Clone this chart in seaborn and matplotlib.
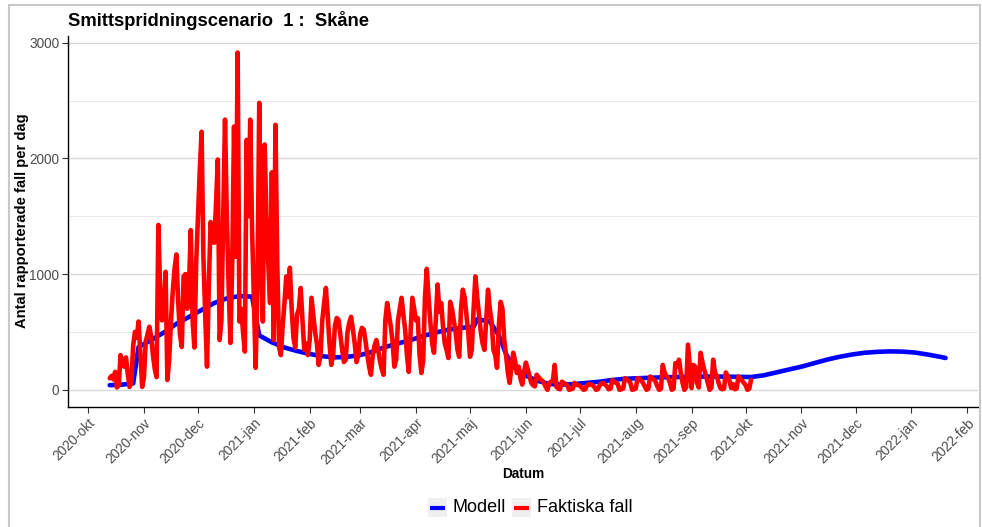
import pandas as pd
import matplotlib
matplotlib.use("Agg")
import matplotlib.pyplot as plt
import seaborn as sns
from matplotlib.patches import Rectangle
from matplotlib.lines import Line2D

# Daily reported cases, starting Tuesday 2020-10-13 (rows are Mon..Sun weeks)
faktiska_start = "2020-10-13"
faktiska_fall = [
    100, 120, 90, 155, 20, 40,
    300, 250, 200, 280, 140, 25, 60,
    380, 500, 450, 590, 320, 25, 110,
    420, 480, 545, 460, 300, 180, 110,
    1425, 850, 600, 700, 1020, 85, 260,
    600, 850, 1050, 1170, 760, 480, 370,
    980, 1000, 700, 900, 1380, 600, 365,
    1100, 1500, 1900, 2230, 1150, 650, 200,
    900, 1450, 1300, 1270, 1600, 1990, 430,
    600, 1500, 2335, 1500, 900, 405, 1100,
    2275, 1150, 2915, 590, 700, 500, 330,
    2160, 1500, 2335, 1400, 800, 190, 900,
    2480, 1200, 590, 2120, 1500, 1100, 750,
    1880, 430, 2290, 1100, 370, 300, 550,
    750, 980, 800, 1055, 700, 450, 365,
    650, 700, 880, 600, 345, 400, 300,
    430, 795, 650, 500, 400, 215, 300,
    600, 750, 880, 650, 400, 215, 300,
    550, 620, 605, 480, 350, 240, 260,
    500, 580, 630, 520, 400, 240, 300,
    480, 535, 520, 420, 300, 200, 130,
    300, 380, 430, 350, 250, 180, 130,
    600, 750, 650, 550, 420, 200, 260,
    600, 700, 795, 650, 520, 300, 155,
    500, 795, 700, 600, 620, 300, 145,
    250, 800, 1045, 800, 580, 400, 320,
    600, 910, 675, 750, 550, 400, 345,
    275, 760, 700, 600, 500, 350, 285,
    700, 865, 800, 650, 500, 285, 345,
    700, 980, 800, 650, 500, 400, 345,
    600, 865, 700, 590, 345, 300, 190,
    550, 760, 700, 430, 300, 150, 60,
    200, 320, 250, 145, 200, 100, 45,
    150, 235, 180, 120, 60, 40, 30,
    130, 110, 90, 80, 60, 25, 0,
    60, 70, 80, 215, 25, 10, 5,
    70, 60, 50, 40, 0, 5, 10,
    60, 45, 40, 35, 20, 0, 5,
    40, 50, 45, 40, 25, 0, 5,
    40, 55, 60, 45, 30, 5, 10,
    85, 70, 60, 50, 0, 5, 10,
    100, 90, 80, 60, 0, 5, 10,
    100, 95, 80, 60, 30, 0, 10,
    115, 100, 90, 70, 30, 0, 10,
    215, 150, 120, 100, 60, 0, 10,
    230, 200, 260, 150, 60, 0, 20,
    390, 200, 15, 215, 200, 60, 20,
    320, 240, 175, 120, 60, 0, 20,
    260, 150, 120, 60, 15, 5, 10,
    150, 120, 80, 15, 50, 5, 10,
    115, 100, 80, 60, 40, 0, 10,
    85,
]

# Scenario model curve
modell_datum = [
    "2020-10-13", "2020-10-20", "2020-10-26", "2020-10-29", "2020-11-05",
    "2020-11-12", "2020-11-19", "2020-11-26", "2020-12-03", "2020-12-10",
    "2020-12-17", "2020-12-24", "2020-12-31", "2021-01-04", "2021-01-11",
    "2021-01-18", "2021-01-25", "2021-02-01", "2021-02-08", "2021-02-15",
    "2021-02-22", "2021-03-01", "2021-03-08", "2021-03-15", "2021-03-22",
    "2021-03-29", "2021-04-05", "2021-04-12", "2021-04-19", "2021-04-26",
    "2021-05-03", "2021-05-05", "2021-05-12", "2021-05-17", "2021-05-21",
    "2021-05-25", "2021-05-31", "2021-06-07", "2021-06-14", "2021-06-21",
    "2021-06-28", "2021-07-05", "2021-07-12", "2021-07-19", "2021-07-26",
    "2021-08-02", "2021-08-16", "2021-08-30", "2021-09-13", "2021-09-27",
    "2021-10-04", "2021-10-11", "2021-10-18", "2021-10-25", "2021-11-01",
    "2021-11-08", "2021-11-15", "2021-11-22", "2021-11-29", "2021-12-06",
    "2021-12-13", "2021-12-20", "2021-12-27", "2022-01-03", "2022-01-10",
    "2022-01-17", "2022-01-20",
]
modell_varden = [
    40, 45, 55, 370, 430,
    495, 570, 630, 690, 750,
    790, 810, 805, 470, 410,
    365, 335, 310, 290, 280,
    285, 300, 330, 370, 400,
    430, 465, 495, 520, 535,
    545, 610, 590, 470, 310,
    200, 130, 80, 50, 45,
    50, 60, 70, 85, 95,
    100, 108, 112, 115, 112,
    110, 125, 150, 175, 200,
    230, 260, 285, 305, 320,
    328, 332, 330, 322, 305,
    285, 275,
]

# Month ticks on the date axis
tick_datum = pd.date_range("2020-10-01", "2022-02-01", freq="MS")
tick_etiketter = [
    "2020-okt", "2020-nov", "2020-dec", "2021-jan", "2021-feb", "2021-mar",
    "2021-apr", "2021-maj", "2021-jun", "2021-jul", "2021-aug", "2021-sep",
    "2021-okt", "2021-nov", "2021-dec", "2022-jan", "2022-feb",
]
y_ticks = [0, 1000, 2000, 3000]

df_fall = pd.DataFrame({
    "Datum": pd.date_range(faktiska_start, periods=len(faktiska_fall), freq="D"),
    "Fall": faktiska_fall,
})
df_modell = pd.DataFrame({"Datum": pd.to_datetime(modell_datum), "Fall": modell_varden})

BLA = "#0000FF"
ROD = "#FF0000"

sns.set_theme(style="white")
plt.rcParams["font.family"] = ["Liberation Sans", "DejaVu Sans"]

W, H = 982, 527
fig = plt.figure(figsize=(W / 100, H / 100), dpi=100)
fig.patch.set_facecolor("white")


def fx(px):
    return px / W


def fy(py):
    return 1 - py / H


ax_left, ax_right, ax_top, ax_bottom = 68.3, 978, 35.6, 406.7
ax = fig.add_axes([fx(ax_left), fy(ax_bottom), fx(ax_right - ax_left), (ax_bottom - ax_top) / H])
ax.set_facecolor("white")

sns.lineplot(data=df_modell, x="Datum", y="Fall", color=BLA, linewidth=3.3, ax=ax)
sns.lineplot(data=df_fall, x="Datum", y="Fall", color=ROD, linewidth=3.3, ax=ax)

ax.set_xlim(pd.Timestamp("2020-09-20"), pd.Timestamp("2022-02-07"))
ax.set_ylim(-146, 3061)

ax.set_yticks(y_ticks)
ax.set_yticklabels([str(v) for v in y_ticks])
ax.set_yticks([500, 1500, 2500], minor=True)
ax.yaxis.grid(True, which="major", color="#d6d6d6", linewidth=0.9)
ax.yaxis.grid(True, which="minor", color="#e9e9e9", linewidth=0.7)
ax.xaxis.grid(False)
ax.set_axisbelow(True)

ax.set_xticks(tick_datum)
ax.set_xticklabels(tick_etiketter, rotation=45, ha="right", va="top", rotation_mode="anchor")

ax.tick_params(axis="both", which="major", direction="out", length=4, width=0.8,
               color="#333333", labelcolor="#4d4d4d", labelsize=9.8, pad=2.5)
ax.tick_params(axis="both", which="minor", length=0)
ax.tick_params(axis="y", left=True)
ax.tick_params(axis="x", bottom=True)

for side in ("top", "right"):
    ax.spines[side].set_visible(False)
for side in ("left", "bottom"):
    ax.spines[side].set_color("black")
    ax.spines[side].set_linewidth(1.0)

ax.set_xlabel("Datum", fontweight="bold", fontsize=9.8, color="black", va="center")
ax.set_ylabel("Antal rapporterade fall per dag", fontweight="bold", fontsize=10.6,
              color="black", va="center", ha="center")
ax.xaxis.set_label_coords(0.5, (ax_bottom - 474) / (ax_bottom - ax_top))
ax.yaxis.set_label_coords((22 - ax_left) / (ax_right - ax_left), 0.5)

fig.text(fx(68), fy(21), "Smittspridningscenario  1 :  Skåne", fontsize=13.2,
         fontweight="bold", ha="left", va="center", color="black")

# Legend at the bottom
for x0, farg, text in ((428, BLA, "Modell"), (512, ROD, "Faktiska fall")):
    fig.add_artist(Rectangle((fx(x0), fy(517)), fx(19), 19 / H, transform=fig.transFigure,
                             facecolor="#f0f0f0", edgecolor="none"))
    fig.add_artist(Line2D([fx(x0 + 2), fx(x0 + 17)], [fy(507.5), fy(507.5)],
                          transform=fig.transFigure, color=farg, linewidth=3.0,
                          solid_capstyle="butt"))
    fig.text(fx(x0 + 25), fy(507.5), text, fontsize=13, ha="left", va="center", color="black")

# Outer frame
fig.add_artist(Rectangle((fx(9), -0.01), fx(980 - 9), fy(5) + 0.01, transform=fig.transFigure,
                         facecolor="none", edgecolor="#c8c8c8", linewidth=1.5))

fig.savefig("out.png", dpi=100, facecolor="white")
